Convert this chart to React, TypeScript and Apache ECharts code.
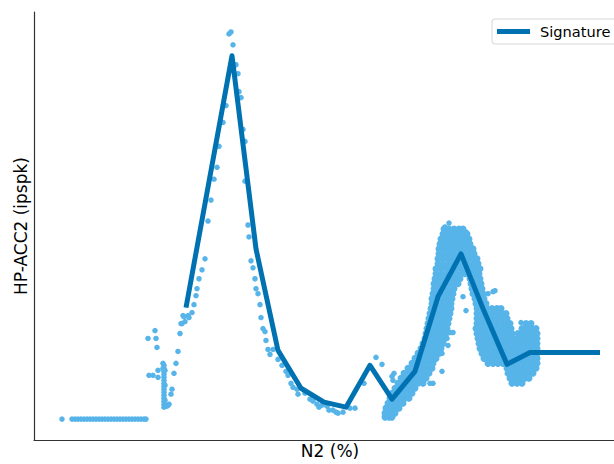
import { useEffect, useRef } from "react";
import * as echarts from "echarts";

// Signature line (N2 %, HP-ACC2) in arbitrary axis units
const signatureN2 = [152, 198, 222, 244, 267, 290, 312, 336, 358, 381, 404, 427, 449, 473, 496, 566];
const signatureAcc = [133, 386, 192, 90, 52, 38, 33, 75, 41, 69, 144, 187, 132, 76, 88, 88];

// Measured samples
const baselineSamples = [
  [28, 21], [38, 21], [41, 21], [44, 21], [47, 21], [50, 21], [53, 21], [56, 21], [59, 21], [62, 21],
  [65, 21], [68, 21], [71, 21], [74, 21], [77, 21], [80, 21], [83, 21], [86, 21], [89, 21], [92, 21],
  [95, 21], [98, 21], [101, 21], [104, 21], [107, 21], [110, 21], [112, 21],
];

const ignitionSamples = [
  [121, 110], [114, 102], [122, 102], [123, 93], [146, 107], [144, 89], [142, 77], [140, 67], [138, 51],
  [137, 46], [135, 36], [129, 77], [124, 70], [115, 65], [119, 65], [124, 63],
  [130, 75], [130, 72], [130, 69], [130, 66], [130, 63], [130, 60], [130, 57], [130, 54], [130, 51],
  [130, 48], [130, 45], [130, 42], [130, 39], [130, 36], [130, 33], [131, 70], [131, 55], [131, 40],
  [133, 34], [134, 35], [129, 72],
  [149, 125], [154, 125], [158, 128], [151, 119], [147, 117], [155, 123], [150, 124], [148, 117],
];

const riseSamples = [
  [185, 295], [183, 274], [180, 262], [177, 241], [174, 220], [171, 182], [168, 171], [165, 162],
  [163, 152], [162, 145], [160, 136], [192, 336], [189, 319], [195, 408], [197, 410], [199, 397],
];

const decaySamples = [
  [202, 377], [204, 368], [205, 350], [207, 344], [209, 312], [211, 300], [211, 260], [214, 216],
  [215, 204], [217, 180], [219, 173], [221, 162], [222, 152], [224, 147], [226, 136], [227, 123],
  [229, 112], [231, 109], [232, 100], [234, 91], [236, 86], [239, 91], [244, 81], [248, 75], [252, 69],
  [254, 65], [257, 57], [259, 53], [263, 51], [264, 46], [271, 47], [276, 41], [279, 39], [283, 36],
  [285, 33], [288, 35], [293, 34], [295, 30], [299, 30], [302, 28], [304, 27], [309, 28], [316, 32],
  [321, 32], [342, 83], [348, 76], [330, 57],
];

// Sparse outliers around the dense second-peak cloud
const cloudOutliers = [
  [415, 218], [411, 214], [432, 209], [454, 147], [459, 149], [461, 150], [429, 144], [432, 130],
  [416, 108], [419, 108], [413, 102], [414, 95], [408, 87], [408, 69], [399, 57], [396, 57],
  [360, 67], [359, 60], [358, 64], [451, 95], [455, 80], [459, 78], [487, 118], [489, 112],
];

// Dense second-peak cloud, one row per HP-ACC2 level: [acc, n2 values]
const clusterRows: [number, number[]][] = [
  [212, [410, 415, 420, 425, 429]],
  [207, [409, 414, 419, 424, 429, 433]],
  [202, [407, 412, 417, 422, 427, 432, 435]],
  [197, [406, 411, 416, 421, 426, 431, 436]],
  [192, [405, 410, 415, 420, 425, 430, 435, 439]],
  [187, [405, 410, 415, 420, 425, 430, 435, 440]],
  [182, [404, 409, 414, 419, 424, 429, 434, 439, 443]],
  [177, [404, 409, 414, 419, 424, 429, 434, 439, 444]],
  [172, [402, 407, 412, 417, 422, 427, 432, 437, 442, 446]],
  [167, [402, 407, 412, 417, 422, 427, 431, 435, 440, 445]],
  [162, [401, 406, 411, 416, 421, 426, 436, 441, 446]],
  [157, [400, 405, 410, 415, 420, 424, 437, 442, 447]],
  [152, [400, 405, 410, 415, 420, 438, 443, 448]],
  [147, [399, 404, 409, 414, 419, 439, 444, 449]],
  [142, [398, 403, 408, 413, 418, 441, 446, 450]],
  [137, [398, 403, 408, 413, 417, 442, 447, 452]],
  [132, [397, 402, 407, 412, 417, 443, 448, 453, 458, 463, 467]],
  [127, [396, 401, 406, 411, 416, 443, 448, 453, 458, 463, 468, 472]],
  [122, [395, 400, 405, 410, 415, 443, 448, 453, 458, 463, 468, 473]],
  [117, [394, 399, 404, 409, 414, 443, 448, 453, 458, 463, 468, 473, 476, 492, 497]],
  [112, [393, 398, 403, 408, 413, 442, 447, 452, 457, 462, 467, 472, 477, 488, 493, 498, 502]],
  [107, [392, 397, 402, 407, 412, 443, 448, 453, 458, 463, 468, 473, 478, 484, 489, 494, 499, 503]],
  [102, [391, 396, 401, 406, 411, 444, 449, 454, 459, 464, 469, 474, 479, 484, 489, 494, 499, 503]],
  [97, [389, 394, 399, 404, 409, 445, 450, 455, 460, 465, 470, 475, 480, 485, 490, 495, 500, 503]],
  [92, [387, 392, 397, 402, 407, 446, 451, 456, 461, 466, 471, 476, 481, 486, 491, 496, 501, 503]],
  [87, [384, 389, 394, 399, 405, 448, 453, 458, 463, 468, 473, 478, 483, 488, 493, 498, 503]],
  [82, [381, 386, 391, 396, 402, 450, 455, 460, 465, 470, 475, 480, 485, 490, 495, 500, 503]],
  [77, [378, 383, 388, 393, 399, 454, 459, 464, 469, 474, 479, 484, 489, 494, 499, 503]],
  [72, [374, 379, 384, 389, 394, 398, 473, 478, 483, 488, 493, 498, 502]],
  [67, [370, 375, 380, 385, 390, 395, 474, 479, 484, 489, 494, 499]],
  [62, [367, 372, 377, 382, 387, 392, 476, 481, 486, 491, 495]],
  [57, [364, 369, 374, 379, 384, 389, 478, 483, 488]],
  [52, [361, 366, 371, 376, 381]],
  [47, [358, 363, 368, 373, 378]],
  [42, [356, 361, 366, 371, 375]],
  [37, [354, 359, 364, 369]],
  [32, [352, 357, 362, 365]],
  [27, [351, 356, 361]],
  [23, [351, 355, 358]],
];

const clusterSamples: number[][] = [];
clusterRows.forEach(([acc, n2s]) => n2s.forEach((n2) => clusterSamples.push([n2, acc])));

const sparseSamples = [
  ...baselineSamples,
  ...ignitionSamples,
  ...riseSamples,
  ...decaySamples,
  ...cloudOutliers,
];

const FONT = "DejaVu Sans";

export default function App() {
  const ref = useRef<HTMLDivElement>(null);
  useEffect(() => {
    const chart = echarts.init(ref.current!, null, { renderer: "svg" });
    chart.setOption({
      animation: false,
      backgroundColor: "#ffffff",
      grid: { left: 34, right: 0, top: 12, bottom: 22 },
      legend: {
        data: ["Signature"],
        left: 492,
        top: 19,
        padding: [5, 12, 5, 5],
        icon: "rect",
        itemWidth: 33,
        itemHeight: 5,
        itemGap: 10,
        borderColor: "#d6d6d6",
        borderWidth: 1,
        borderRadius: 3,
        backgroundColor: "rgba(255,255,255,0.8)",
        textStyle: { fontFamily: FONT, fontSize: 14.6, color: "#000", padding: [0, 0, 0, 5] },
      },
      xAxis: {
        type: "value",
        min: 0,
        max: 592,
        name: "N2 (%)",
        nameLocation: "middle",
        nameGap: 2,
        nameTextStyle: { fontFamily: FONT, fontSize: 17, color: "#000", verticalAlign: "top" },
        axisLine: { show: true, lineStyle: { color: "#333", width: 1.2 } },
        axisTick: { show: false },
        axisLabel: { show: false },
        splitLine: { show: false },
      },
      yAxis: {
        type: "value",
        min: 0,
        max: 430,
        name: "HP-ACC2 (ipspk)",
        nameLocation: "middle",
        nameGap: 5,
        nameTextStyle: { fontFamily: FONT, fontSize: 17, color: "#000" },
        axisLine: { show: true, lineStyle: { color: "#333", width: 1.2 } },
        axisTick: { show: false },
        axisLabel: { show: false },
        splitLine: { show: false },
      },
      series: [
        {
          name: "Samples",
          type: "scatter",
          data: sparseSamples,
          symbol: "circle",
          symbolSize: 5.5,
          itemStyle: { color: "#56B4E9", opacity: 1 },
          z: 2,
        },
        {
          name: "Cloud",
          type: "scatter",
          data: clusterSamples,
          symbol: "circle",
          symbolSize: 7,
          itemStyle: { color: "#56B4E9", opacity: 1 },
          z: 2,
        },
        {
          name: "Signature",
          type: "line",
          data: signatureN2.map((n, i) => [n, signatureAcc[i]]),
          symbol: "none",
          showSymbol: false,
          lineStyle: { color: "#0072B2", width: 5, join: "round", cap: "butt" },
          itemStyle: { color: "#0072B2" },
          z: 3,
        },
      ],
    });
    return () => chart.dispose();
  }, []);
  return (
    <div
      style={{
        position: "absolute",
        left: 0,
        top: 0,
        width: 614,
        height: 464,
        overflow: "hidden",
        background: "#fff",
      }}
    >
      <div ref={ref} style={{ width: 626, height: 464 }} />
    </div>
  );
}
